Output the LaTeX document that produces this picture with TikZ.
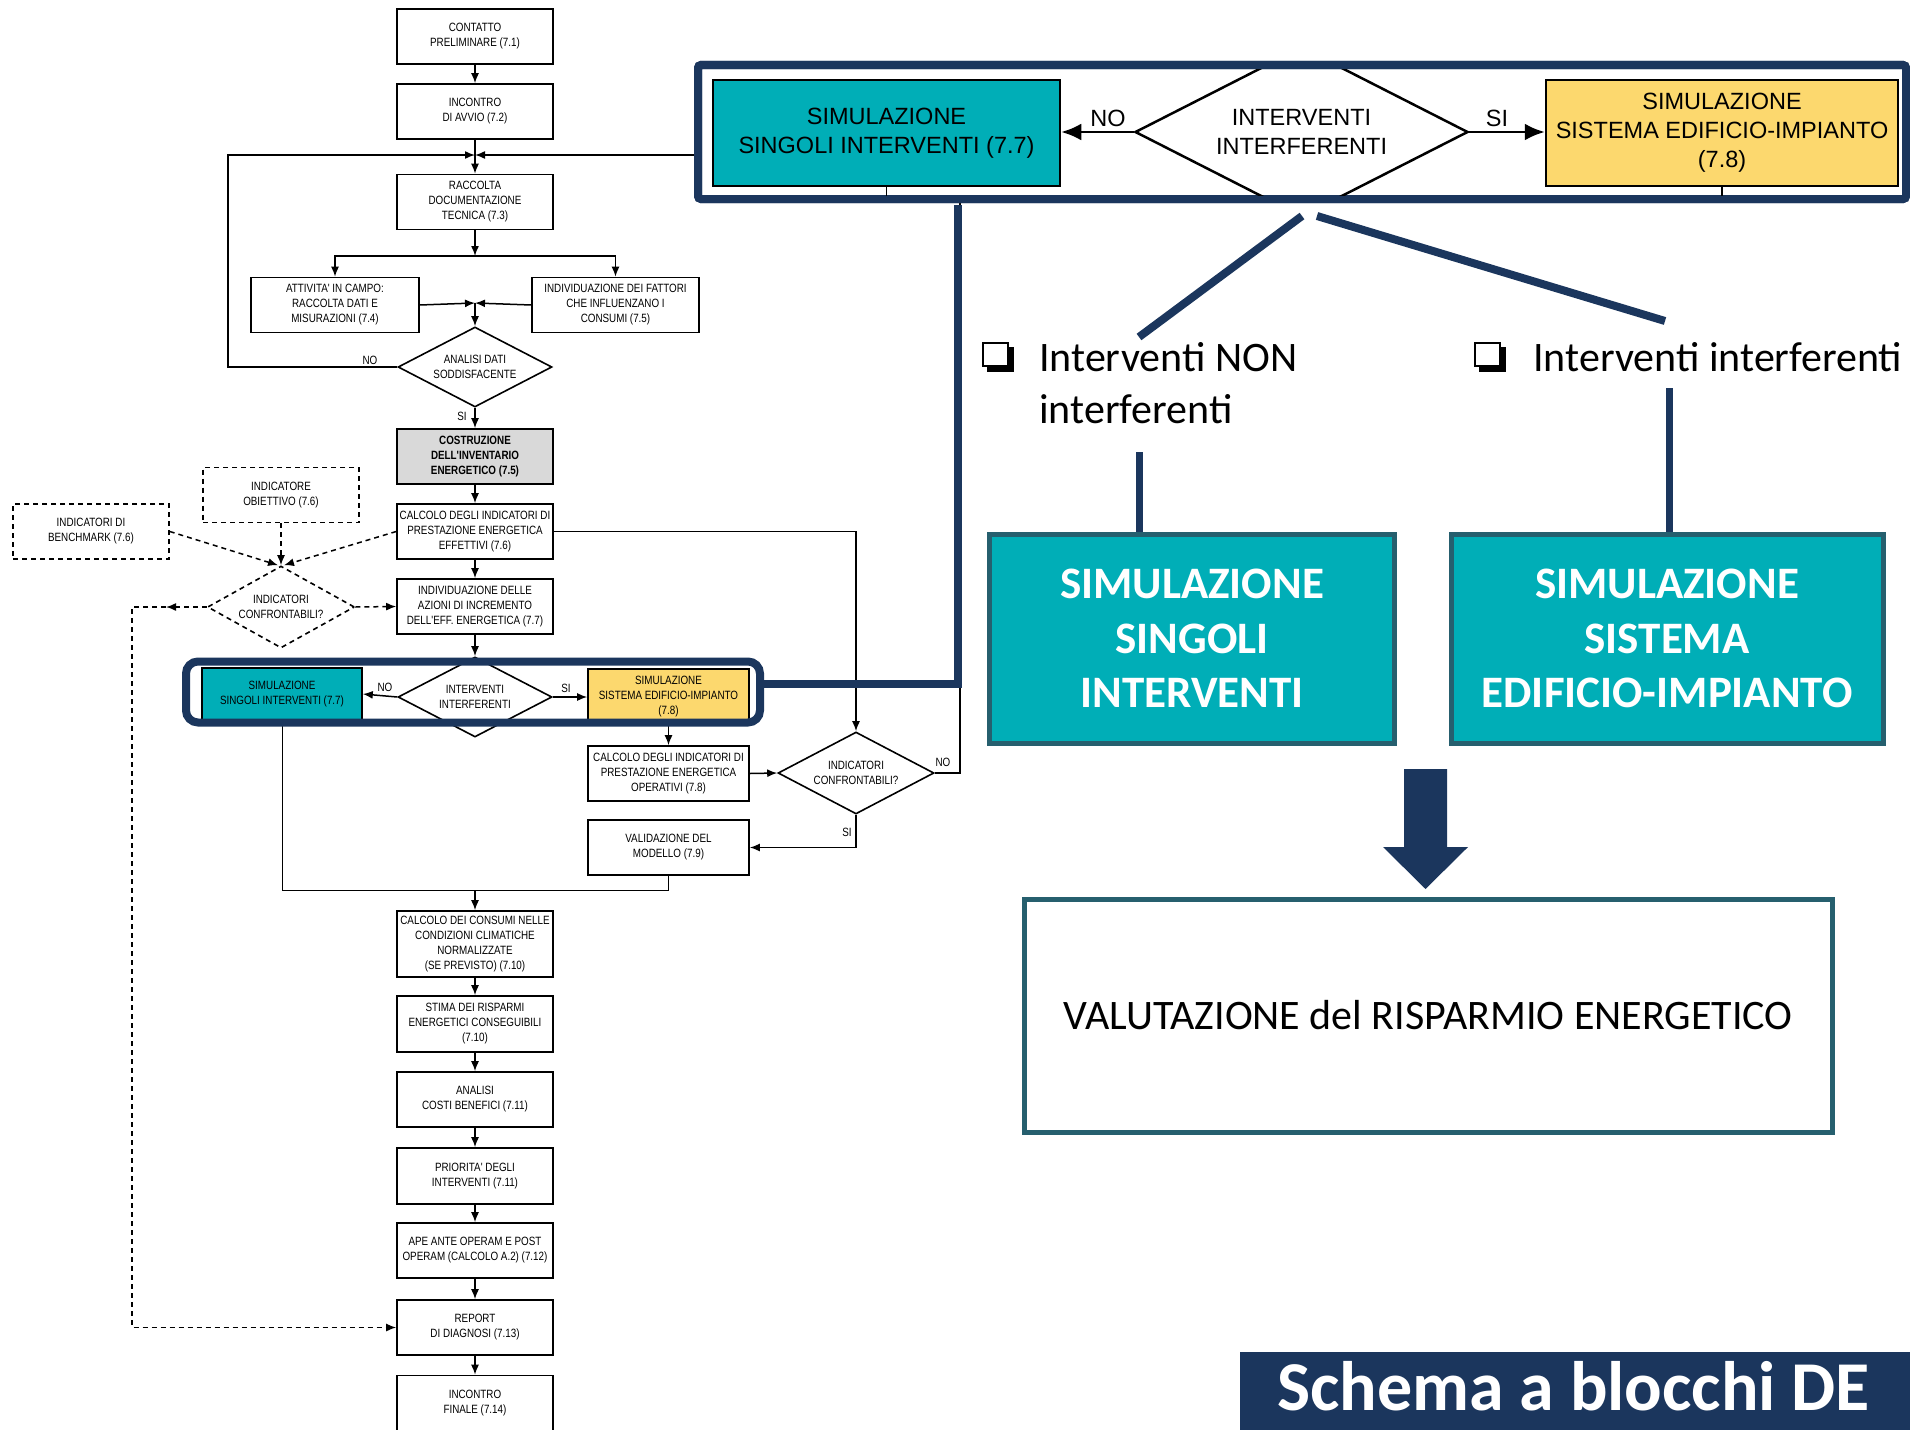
\documentclass[tikz,border=0pt]{standalone}
\usepackage{fontspec}
\setmainfont{Liberation Sans}
\newfontfamily\flowfont[FakeStretch=0.82]{Liberation Sans}
\newfontfamily\calfont{Carlito}
\usetikzlibrary{shapes.geometric,arrows.meta}
\definecolor{navy}{RGB}{27,54,93}
\definecolor{tealfill}{RGB}{0,174,183}
\definecolor{tealedge}{RGB}{38,95,110}
\definecolor{yell}{RGB}{252,216,110}
\definecolor{greyfill}{RGB}{217,217,217}
\tikzset{
  fl/.style={font=\flowfont\fontsize{12}{15}\selectfont, align=center, inner sep=0pt},
  fbox/.style={fl, draw, line width=1.6pt, minimum width=156pt, minimum height=55pt},
  fboxb/.style={fbox, font=\flowfont\bfseries\fontsize{12}{15}\selectfont},
  fdia/.style={fl, draw, diamond, aspect=1.9, line width=1.6pt, minimum width=154pt, minimum height=80pt},
  dbox/.style={fbox, dash pattern=on 5pt off 4pt},
  conn/.style={line width=1.5pt, -{Latex[length=10pt,width=8pt]}},
  plainline/.style={line width=1.5pt},
  dconn/.style={conn, dash pattern=on 5pt off 4pt},
  lab/.style={inner sep=0pt, font=\flowfont\fontsize{12}{13}\selectfont},
  bigtxt/.style={font=\fontsize{23.5}{29}\selectfont, align=center, inner sep=0pt},
  bigconn/.style={line width=2.8pt, -{Latex[length=20pt,width=17pt]}},
  navyline/.style={navy, line width=8pt},
  tealbig/.style={draw=tealedge, fill=tealfill, line width=5pt, minimum height=209pt,
    text=white, align=center, font=\calfont\bfseries\fontsize{45}{54.5}\selectfont},
  bullettxt/.style={anchor=base west, inner sep=0pt, font=\calfont\fontsize{42}{50}\selectfont},
}
\begin{document}
\begin{tikzpicture}[x=1pt,y=-1pt]
\clip (0,0) rectangle (1910,1429);
\fill[white] (0,0) rectangle (1910,1429);

% ---------------- flowchart: main column ----------------
\node[fbox] (c71) at (475,36.5) {CONTATTO\\PRELIMINARE (7.1)};
\node[fbox] (c72) at (475,111.5) {INCONTRO\\DI AVVIO (7.2)};
\coordinate (j1) at (475,155);
\node[fbox] (c73) at (475,202) {RACCOLTA\\DOCUMENTAZIONE\\TECNICA (7.3)};
\coordinate (s1) at (475,256);
\node[fbox, minimum width=168pt] (c74) at (335,305) {ATTIVITA' IN CAMPO:\\RACCOLTA DATI E\\MISURAZIONI (7.4)};
\node[fbox, minimum width=167pt] (c75) at (615.5,305) {INDIVIDUAZIONE DEI FATTORI\\CHE  INFLUENZANO I\\CONSUMI (7.5)};
\coordinate (j2) at (475,303);
\node[fdia] (d1) at (475,367) {ANALISI DATI\\SODDISFACENTE};
\node[fboxb, fill=greyfill] (c75b) at (475,456.5) {COSTRUZIONE\\DELL'INVENTARIO\\ENERGETICO (7.5)};
\node[fbox] (c76) at (475,531.5) {CALCOLO DEGLI INDICATORI DI\\PRESTAZIONE ENERGETICA\\EFFETTIVI (7.6)};
\node[fbox] (c77) at (475,606.5) {INDIVIDUAZIONE DELLE\\AZIONI DI INCREMENTO\\DELL'EFF. ENERGETICA (7.7)};
\node[fdia] (d2) at (475,697) {INTERVENTI\\INTERFERENTI};
\node[fbox, fill=tealfill, minimum width=160pt, minimum height=52pt] (sim1) at (282,694) {SIMULAZIONE\\SINGOLI INTERVENTI (7.7)};
\node[fbox, fill=yell, minimum width=161pt, minimum height=56pt] (sim2) at (668.5,697) {SIMULAZIONE\\SISTEMA EDIFICIO-IMPIANTO\\(7.8)};
\node[fbox, minimum width=161pt] (c78) at (668.5,773.5) {CALCOLO DEGLI INDICATORI DI\\PRESTAZIONE ENERGETICA\\OPERATIVI (7.8)};
\node[fdia, minimum width=156pt, minimum height=82pt] (d3) at (856,773) {INDICATORI\\CONFRONTABILI?};
\node[fbox, minimum width=161pt] (c79) at (668.5,847.5) {VALIDAZIONE DEL\\MODELLO (7.9)};
\coordinate (m1) at (475,890);
\node[fbox, minimum height=66pt] (c710) at (475,944) {CALCOLO DEI CONSUMI NELLE\\CONDIZIONI CLIMATICHE\\NORMALIZZATE\\(SE PREVISTO) (7.10)};
\node[fbox, minimum height=56pt] (c710b) at (475,1024) {STIMA DEI RISPARMI\\ENERGETICI CONSEGUIBILI\\(7.10)};
\node[fbox] (c711) at (475,1099.5) {ANALISI\\COSTI BENEFICI (7.11)};
\node[fbox, minimum height=56pt] (c711b) at (475,1176) {PRIORITA' DEGLI\\INTERVENTI (7.11)};
\node[fbox] (c712) at (475,1250.5) {APE ANTE OPERAM E POST\\OPERAM (CALCOLO A.2) (7.12)};
\node[fbox] (c713) at (475,1327.5) {REPORT\\DI DIAGNOSI (7.13)};
\node[fbox] (c714) at (475,1403) {INCONTRO\\FINALE (7.14)};

% dashed benchmark branch
\node[dbox] (obj) at (281,495) {INDICATORE\\OBIETTIVO (7.6)};
\node[dbox] (bench) at (91,531.5) {INDICATORI DI\\BENCHMARK (7.6)};
\node[fdia, dash pattern=on 5pt off 4pt, minimum width=147pt, minimum height=82pt] (d4) at (281,607) {INDICATORI\\CONFRONTABILI?};
\coordinate (dl) at (166,607);
\coordinate (dc) at (132,607);

% connectors
\draw[conn] (c71.south) -- (c72.north);
\draw[plainline] (c72.south) -- (j1);
\draw[conn] (j1) -- (c73.north);
\draw[conn] (d1.west) -- (228,367) -- (228,155) -- (j1);
\draw[conn] (c73.south) -- (s1);
\draw[conn] (s1) -| (c74.north);
\draw[conn] (s1) -| (c75.north);
\draw[conn] (c74.east) -- (j2);
\draw[conn] (c75.west) -- (j2);
\draw[conn] (j2) -- (d1.north);
\node[lab] (no1) at (370,360) {NO};
\draw[conn] (d1.south) -- (c75b.north);
\node[lab] (si1) at (462,416) {SI};
\draw[conn] (c75b.south) -- (c76.north);
\draw[conn] (c76.south) -- (c77.north);
\draw[conn] (c77.south) -- (d2.north);
\draw[conn] (d2.west) -- (sim1.east);
\node[lab] (no2) at (385,687) {NO};
\draw[conn] (d2.east) -- (sim2.west);
\node[lab] (si2) at (566,688) {SI};
\draw[conn] (sim2.south) -- (c78.north);
\draw[conn] (c78.east) -- (d3.west);
\draw[conn] (c76.east) -| (d3.north);
\draw[conn] (d3.east) -- (960,773) -- (960,155) -- (j1);
\node[lab] (no3) at (943,762) {NO};
\draw[conn] (d3.south) |- (c79.east);
\node[lab] (si3) at (847,832) {SI};
\draw[line width=1pt] (sim1.south) |- (c79.south |- m1) -- (c79.south);
\draw[conn] (m1) -- (c710.north);
\draw[conn] (c710.south) -- (c710b.north);
\draw[conn] (c710b.south) -- (c711.north);
\draw[conn] (c711.south) -- (c711b.north);
\draw[conn] (c711b.south) -- (c712.north);
\draw[conn] (c712.south) -- (c713.north);
\draw[conn] (c713.south) -- (c714.north);

\draw[dconn] (bench.east) -- ([xshift=-3pt]d4.north);
\draw[dconn] (obj.south) -- (d4.north);
\draw[dconn] (c76.west) -- ([xshift=3pt]d4.north);
\draw[dconn] (d4.east) -- (c77.west);
\draw[dconn] (d4.west) -- (dl);
\draw[dconn] (dl) -- (dc) |- (c713.west);

% ---------------- highlight and zoomed detail ----------------
\node[draw=navy, line width=8pt, rounded corners=12pt, minimum width=574pt, minimum height=61pt, inner sep=0pt] (hl) at (473,692) {};
\coordinate (kx) at (958,0);
\node[draw=navy, fill=white, line width=8pt, rounded corners=3pt, minimum width=1208pt, minimum height=134pt, inner sep=0pt] (zoombox) at (1302,132) {};
\draw[navyline] ([yshift=8pt]hl.east) -| ([yshift=-2pt]zoombox.south -| kx);
\draw[navy, line width=8pt, rounded corners=3pt] (698,65) rectangle (1906,199);

\begin{scope}
\clip (702,69) rectangle (1902,195);
\node[draw, fill=tealfill, line width=2.5pt, minimum width=347pt, minimum height=106pt, bigtxt] (bsim1) at (886.5,133) {SIMULAZIONE\\SINGOLI INTERVENTI (7.7)};
\node[draw, diamond, aspect=1.96, line width=2.5pt, minimum width=333pt, minimum height=170pt, bigtxt] (bd) at (1301.5,132) {INTERVENTI\\INTERFERENTI};
\node[draw, fill=yell, line width=2.5pt, minimum width=352pt, minimum height=106pt, bigtxt] (bsim2) at (1722,133) {SIMULAZIONE\\SISTEMA EDIFICIO-IMPIANTO\\(7.8)};
\draw[bigconn] (bd.west) -- (bsim1.east |- bd.west);
\draw[bigconn] (bd.east) -- (bsim2.west |- bd.east);
\node[bigtxt] (bno) at (1108,118) {NO};
\node[bigtxt] (bsi) at (1497,118) {SI};
\draw[line width=1.5pt] (bsim1.south) -- ++(0,12);
\draw[line width=1.5pt] (bsim2.south) -- ++(0,12);
\end{scope}

% ---------------- right-hand explanation ----------------
\coordinate (fork1) at (1302,216);
\coordinate (fork2) at (1317,216);
\coordinate (leg1) at (1139,337);
\coordinate (leg2) at (1665,321);
\draw[navyline] (fork1) -- (leg1);
\draw[navyline] (fork2) -- (leg2);

\fill (987,347) rectangle (1014,372);
\filldraw[fill=white, line width=2pt] (983,343) rectangle (1008,366);
\fill (1479,347) rectangle (1506,372);
\filldraw[fill=white, line width=2pt] (1475,343) rectangle (1500,366);
\node[bullettxt] (t1) at (1039,371) {Interventi NON};
\node[bullettxt] (t2) at (1039,423) {interferenti};
\node[bullettxt] (t3) at (1533,371) {Interventi interferenti};

\node[tealbig, minimum width=405pt] (bt1) at (1192,638.5) {SIMULAZIONE\\SINGOLI\\INTERVENTI};
\node[tealbig, minimum width=432pt] (bt2) at (1667,638.5) {SIMULAZIONE\\SISTEMA\\EDIFICIO-IMPIANTO};
\draw[navy, line width=7pt] (1139,452) -- (bt1.north -| 1139,0);
\draw[navy, line width=7pt] (1669,388) -- (bt2.north -| 1669,0);

\node[draw=tealedge, line width=5pt, minimum width=808pt, minimum height=233pt, inner sep=0pt,
  font=\calfont\fontsize{42}{50}\selectfont] (res) at (1428,1015.5) {VALUTAZIONE del RISPARMIO ENERGETICO};
\fill[navy] (1404,769) -- (1447,769) -- (1447,847) -- (1468,847) -- (1425.5,889) -- (1383,847) -- (1404,847) -- cycle;

\node[fill=navy, anchor=north west, minimum width=680pt, minimum height=80pt, inner sep=0pt] (banner) at (1240,1352) {};
\node[anchor=base west, inner sep=0pt, text=white, font=\calfont\bfseries\fontsize{70}{76}\selectfont] (bantxt) at (1277,1410) {Schema a blocchi DE};
\end{tikzpicture}
\end{document}
